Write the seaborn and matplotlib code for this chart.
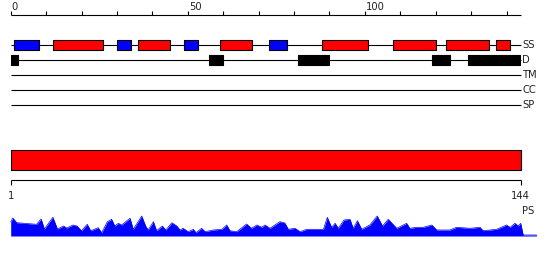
import matplotlib
matplotlib.use("Agg")
import matplotlib.pyplot as plt
import seaborn as sns

# ---------------- data ----------------
seq_len = 144
ruler_major = [0, 50, 100]
ruler_minor = list(range(0, 141, 10))

# secondary structure (H = helix, E = strand)
ss_start = [1, 12, 30, 36, 49, 59, 73, 88, 108, 123, 137]
ss_end = [8, 26, 34, 45, 53, 68, 78, 101, 120, 135, 141]
ss_type = ["E", "H", "E", "H", "E", "H", "E", "H", "H", "H", "H"]

# disorder
dis_start = [0, 56, 81, 119, 129]
dis_end = [2, 60, 90, 124, 144]

track_names = ["SS", "D", "TM", "CC", "SP"]

# domain
dom_start = [1]
dom_end = [144]
dom_ticks = [1, 144]

# PS profile
ps_pos = [0, 0.6, 1.7, 7.3, 8.6, 9.5, 11.9, 13.2, 14.9, 15.8, 17.6, 18.7, 20.0, 21.6, 22.6,
          23.8, 24.7, 25.7, 27.3, 28.5, 29.4, 30.4, 31.3, 33.7, 34.6, 37.0, 38.1, 38.8, 40.3,
          41.2, 42.8, 43.8, 45.5, 46.9, 47.8, 48.7, 50.1, 51.6, 52.3, 53.9, 54.9, 57.2, 59.6,
          61.0, 61.9, 63.8, 66.6, 68.0, 69.5, 70.9, 71.8, 73.2, 76.0, 77.4, 78.4, 80.3, 81.7,
          83.6, 88.3, 89.4, 90.6, 91.6, 92.5, 94.1, 95.8, 96.7, 97.9, 99.1, 101.4, 103.5, 105.0,
          106.6, 109.0, 111.8, 112.7, 114.6, 116.5, 118.9, 120.3, 124.0, 125.9, 129.7, 132.5,
          133.4, 137.2, 140.0, 141.0, 142.4, 143.3, 144.0, 144.7, 148.5]
ps_val = [14, 18, 13.3, 11.7, 17, 7, 18.7, 7, 10, 8, 11, 10, 5.3, 11.7, 5.3,
          7, 8.3, 3.3, 14.3, 16.7, 10, 12.7, 11, 17.7, 6.7, 20, 10, 6, 14.3,
          5.3, 10, 6, 13.3, 10, 6, 7.7, 4.3, 6.7, 3.3, 7.7, 4.3, 6, 6.7,
          11, 5.3, 4.3, 12, 7.7, 11, 8.7, 11, 7.7, 14.3, 13, 6.7, 7.7, 4.3,
          6.7, 6.7, 18.7, 8.7, 12.7, 7.7, 16, 16.7, 7.7, 15.3, 6.7, 11, 20, 10,
          16.7, 7.7, 12.7, 7.7, 8.7, 8.7, 11, 6, 6, 8.7, 7.7, 8.7,
          5.3, 6.7, 11, 8.7, 12.7, 10, 12.7, 1, 1]

# ---------------- style ----------------
sns.set_theme(style="white")
plt.rcParams["font.family"] = ["DejaVu Sans"]

W, H = 550, 260
fig = plt.figure(figsize=(W / 100, H / 100), dpi=100)
fig.patch.set_facecolor("white")


def add_ax(x0, y0, x1, y1):
    a = fig.add_axes([x0 / W, 1 - y1 / H, (x1 - x0) / W, (y1 - y0) / H])
    a.set_axis_off()
    return a


LW = 0.8
TXT = "#222222"
FS = 7.2
colors = {"H": "#ff0000", "E": "#0000ff"}

# ---------------- top tracks ----------------
ax = add_ax(10.7, 0, 520.7, 110)
ax.set_xlim(0, seq_len)
ax.set_ylim(110, 0)

ruler_y = 15.3
ax.hlines(ruler_y, 0, seq_len, color="black", lw=LW, clip_on=False)
ax.vlines(ruler_minor, ruler_y - 4.3, ruler_y, color="black", lw=LW, clip_on=False)
for t in ruler_major:
    ax.text(t + 0.3, 10, str(t), fontsize=FS, color=TXT, ha="left", va="baseline")

track_y = [45, 60, 75, 90, 105]
for name, y in zip(track_names, track_y):
    ax.hlines(y, 0, seq_len, color="black", lw=LW, clip_on=False, zorder=1)
    ax.text(seq_len + 0.4, y, name, fontsize=FS, color=TXT, ha="left", va="center")

ax.broken_barh([(s, e - s) for s, e in zip(ss_start, ss_end)], (track_y[0] - 5, 10),
               facecolors=[colors[t] for t in ss_type], edgecolor="black", lw=LW, zorder=3)
ax.broken_barh([(s, e - s) for s, e in zip(dis_start, dis_end)], (track_y[1] - 5, 10),
               facecolors="black", edgecolor="black", lw=LW, zorder=3)

# ---------------- domain + axis ----------------
ax2 = add_ax(10.7, 140, 520.7, 200)
ax2.set_xlim(1, seq_len)
ax2.set_ylim(200, 140)
ax2.broken_barh([(s, e - s) for s, e in zip(dom_start, dom_end)], (150.3, 20),
                facecolors="#ff0000", edgecolor="black", lw=LW, clip_on=False)
ax2.hlines(180.3, dom_ticks[0], dom_ticks[-1], color="black", lw=LW, clip_on=False)
ax2.vlines(dom_ticks, 180.3, 185, color="black", lw=LW, clip_on=False)
for t in dom_ticks:
    ax2.text(t, 195.7, str(t), fontsize=FS, color=TXT, ha="center", va="center")

# ---------------- PS profile ----------------
ax3 = add_ax(10.7, 200, 520.7, 236)
ax3.set_xlim(0, seq_len)
ax3.set_ylim(0, 36)
sns.lineplot(x=ps_pos, y=ps_val, ax=ax3, color="#0000ff", lw=0.5, estimator=None,
             sort=False, legend=False)
ax3.fill_between(ps_pos, 0, ps_val, color="#0000ff", lw=0, clip_on=False)
for ln in ax3.lines:
    ln.set_clip_on(False)
ax3.text(144.3, 25.5, "PS", fontsize=FS, color=TXT, ha="left", va="center")

fig.savefig("out.png", dpi=100, facecolor="white")
